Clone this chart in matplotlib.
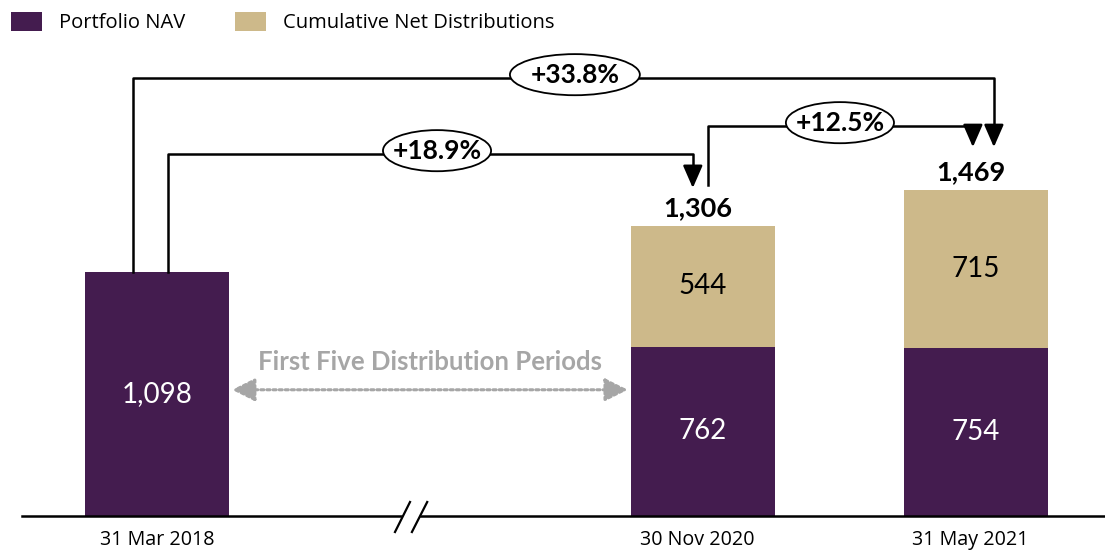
import matplotlib.pyplot as plt
from matplotlib.patches import Ellipse

dates = ["31 Mar 2018", "30 Nov 2020", "31 May 2021"]
xpos = [0, 2, 3]          # gap of one slot for the axis break
nav = [1098, 762, 754]
dist = [0, 544, 715]
totals = [n + d for n, d in zip(nav, dist)]
growth = ["+33.8%", "+18.9%", "+12.5%"]

purple = "#441c4f"
tan = "#cdb98a"
grey = "#a6a6a6"
bold_font = ["Lato", "DejaVu Sans"]
reg_font = ["Open Sans", "DejaVu Sans"]
num_font = ["Lato", "DejaVu Sans"]

fig = plt.figure(figsize=(11.05, 5.5), dpi=100)
ax = fig.add_axes([0, 0, 1, 1])
ax.set_xlim(-0.575, 3.473)
ax.set_ylim(-153, 2322)
ax.axis("off")

w = 0.527
ax.bar(xpos, nav, width=w, color=purple, label="Portfolio NAV")
ax.bar(xpos, dist, bottom=nav, width=w, color=tan, label="Cumulative Net Distributions")

# values inside bars
for x, n, d in zip(xpos, nav, dist):
    ax.text(x, n / 2, f"{n:,}", ha="center", va="center", color="white",
            fontsize=20, family=num_font)
    if d:
        ax.text(x, n + d / 2, f"{d:,}", ha="center", va="center", color="black",
                fontsize=20, family=num_font)
for x, t, d in zip(xpos, totals, dist):
    if d:
        ax.text(x - 0.02, t + 80, f"{t:,}", ha="center", va="center",
                fontsize=19.5, fontweight="bold", family=bold_font)

# category labels
for x, lab in zip(xpos, dates):
    ax.text(x - (0.02 if x else 0), -108, lab, ha="center", va="center",
            fontsize=14.2, family=reg_font)

# baseline with break
ax.plot([-0.495, 3.6], [0, 0], color="black", lw=1.8, clip_on=False)
bx = [0.872, 0.927, 0.99, 0.934]
by = [-72, 63, 63, -72]
ax.fill(bx, by, color="white", zorder=3)
ax.plot([0.872, 0.927], [-72, 63], color="black", lw=1.6, zorder=4)
ax.plot([0.934, 0.99], [-72, 63], color="black", lw=1.6, zorder=4)


def connector(x0, y0, x1, ytop, ytip, label, lx, ew):
    ax.plot([x0, x0, x1, x1], [y0, ytop, ytop, ytip + 50], color="black",
            lw=1.8, zorder=2)
    ax.annotate("", xy=(x1, ytip), xytext=(x1, ytip + 60),
                arrowprops=dict(arrowstyle="-|>,head_length=0.55,head_width=0.24",
                                color="black", lw=1.8, mutation_scale=25,
                                shrinkA=0, shrinkB=0))
    ax.add_patch(Ellipse((lx, ytop + 15), ew, 185, facecolor="white",
                         edgecolor="black", lw=1.3, zorder=5))
    ax.text(lx, ytop + 15, label, ha="center", va="center", fontsize=19,
            fontweight="bold", family=bold_font, zorder=6)


connector(xpos[0] - 0.088, nav[0], xpos[2] + 0.066, 1971, 1660, growth[0], 1.531, 0.476)
connector(xpos[0] + 0.04, nav[0], xpos[1] - 0.037, 1629, 1476, growth[1], 1.026, 0.396)
connector(xpos[1] + 0.018, 1490, xpos[2] - 0.011, 1755, 1660, growth[2], 2.502, 0.396)

# distribution periods arrow
ax.annotate("", xy=(0.275, 568), xytext=(1.725, 568),
            arrowprops=dict(arrowstyle="<|-|>,head_length=0.7,head_width=0.35",
                            color=grey, lw=2.2, linestyle=(0, (1, 1)),
                            mutation_scale=20, shrinkA=0, shrinkB=0))
ax.text(1.0, 695, "First Five Distribution Periods", ha="center", va="center",
        fontsize=18.5, fontweight="bold", color=grey, family=bold_font)

# legend
ax.legend(loc="upper left", bbox_to_anchor=(-0.006, 1.012), ncol=2, frameon=False,
          prop={"family": reg_font, "size": 14.5}, handlelength=1.5,
          handleheight=1.1, columnspacing=2.5, handletextpad=0.85)

fig.savefig("out.png", dpi=100)
